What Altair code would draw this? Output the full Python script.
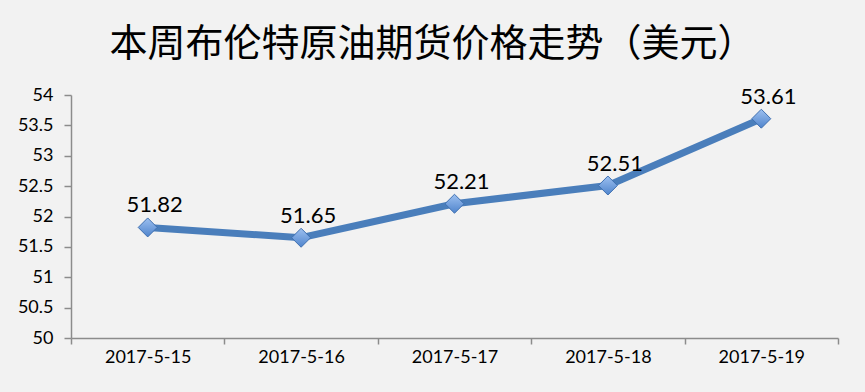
import json
import altair as alt
import pandas as pd

dates = ["2017-5-15", "2017-5-16", "2017-5-17", "2017-5-18", "2017-5-19"]
prices = [51.82, 51.65, 52.21, 52.51, 53.61]
y_ticks = [50, 50.5, 51, 51.5, 52, 52.5, 53, 53.5, 54]
title_text = "本周布伦特原油期货价格走势（美元）"

df = pd.DataFrame({"date": dates, "price": prices})
n = len(dates)
x_vals = [i * 0.5 for i in range(2 * n + 1)]
label_expr = "datum.value % 1 == 0 ? '' : " + json.dumps(dates) + "[floor(datum.value)]"

axis_color = "#8C8C8C"
font = "Lato"

x_enc = alt.X(
    "pos:Q",
    scale=alt.Scale(domain=[0, n], nice=False, zero=False),
    axis=alt.Axis(
        title=None,
        values=x_vals,
        labelExpr=label_expr,
        labelOverlap=False,
        labelFlush=False,
        grid=False,
        domainColor=axis_color,
        domainWidth=1.5,
        tickColor=axis_color,
        tickWidth=1.5,
        tickSize=6,
        tickOpacity={"condition": {"test": "datum.value % 1 == 0", "value": 1}, "value": 0},
        labelFont=font,
        labelFontSize=18,
        labelColor="#000000",
        labelPadding=4,
    ),
)
y_enc = alt.Y(
    "price:Q",
    scale=alt.Scale(domain=[50, 54], nice=False, zero=False),
    axis=alt.Axis(
        title=None,
        values=y_ticks,
        format="~g",
        grid=False,
        domainColor=axis_color,
        domainWidth=1.5,
        tickColor=axis_color,
        tickWidth=1.5,
        tickSize=7,
        labelFont=font,
        labelFontSize=18,
        labelColor="#000000",
        labelPadding=11,
    ),
)

base = alt.Chart(df).transform_window(idx="row_number()").transform_calculate(pos="datum.idx - 0.5")

line = base.mark_line(color="#4A7EBB", strokeWidth=7).encode(x=x_enc, y=y_enc)

points = base.mark_point(
    shape="diamond",
    size=360,
    filled=True,
    opacity=1,
    fill=alt.Gradient(
        gradient="linear",
        stops=[alt.GradientStop(color="#9DC0F0", offset=0), alt.GradientStop(color="#4F84CC", offset=1)],
        x1=0, x2=0, y1=0, y2=1,
    ),
    stroke="#3E6FB0",
    strokeWidth=1,
).encode(x=x_enc, y=y_enc)

labels = base.mark_text(
    font=font, fontSize=22, color="#000000", dx=7, dy=-15, baseline="alphabetic", align="center"
).encode(x=x_enc, y=y_enc, text=alt.Text("price:Q", format=".2f"))

chart = (
    alt.layer(line, points, labels)
    .properties(
        width=767,
        height=243,
        background="#F2F2F2",
        padding={"left": 71, "top": 95, "right": 27, "bottom": 54},
        autosize=alt.AutoSizeParams(type="none"),
        title=alt.TitleParams(
            text=title_text,
            font="Noto Sans CJK SC",
            fontSize=38,
            fontWeight="normal",
            color="#000000",
            anchor="middle",
            frame="group",
            baseline="alphabetic",
            offset=-8,
            dx=-22,
        ),
    )
    .configure_view(stroke=None)
)

chart.save("out.html", embed_options={"renderer": "svg", "actions": False})
